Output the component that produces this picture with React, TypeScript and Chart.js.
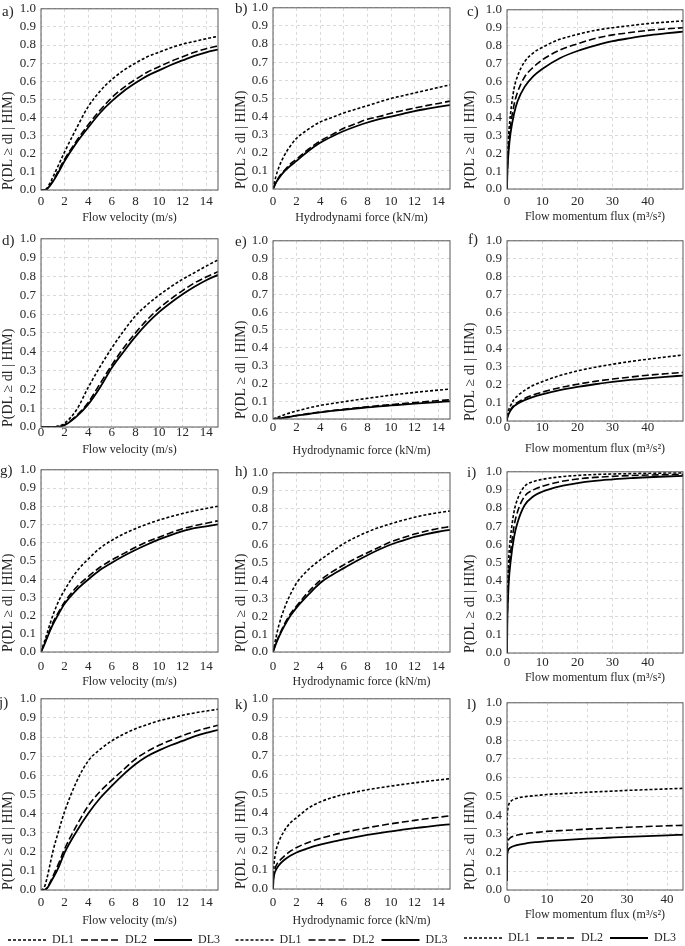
import React, { useEffect, useRef } from 'react';
import { Chart, registerables } from 'chart.js';
Chart.register(...registerables);

// ---------------- data ----------------
const SERIES = ['DL1', 'DL2', 'DL3'];
const Y_TICKS = [0, 0.1, 0.2, 0.3, 0.4, 0.5, 0.6, 0.7, 0.8, 0.9, 1.0];
const X_TICKS_15 = [0, 2, 4, 6, 8, 10, 12, 14];
const X_TICKS_50 = [0, 10, 20, 30, 40];

const X_A = [0, 0.25, 0.5, 1, 1.5, 2, 3, 4, 5, 6, 7, 8, 9, 10, 11, 12, 13, 14, 15];
const X_D = [0, 0.5, 1, 1.5, 2, 3, 4, 5, 6, 7, 8, 9, 10, 11, 12, 13, 14, 15];
const X_E = [0, 0.5, 1, 2, 3, 4, 5, 6, 7, 8, 9, 10, 11, 12, 13, 14, 15];
const X_K = [0, 0.05, 0.1, 0.25, 0.5, 1, 1.5, 2, 3, 4, 5, 6, 7, 8, 9, 10, 11, 12, 13, 14, 15];
const X_F = [0, 0.1, 0.25, 0.5, 1, 2, 3, 5, 7.5, 10, 15, 20, 25, 30, 35, 40, 45, 50];
const X_L = [0, 0.05, 0.1, 0.25, 0.5, 1, 2, 3, 5, 7.5, 10, 15, 20, 25, 30, 35, 40, 44];

const A_DL1 = [0, 0, 0.01, 0.07, 0.14, 0.21, 0.34, 0.46, 0.545, 0.61, 0.66, 0.7, 0.735, 0.76, 0.785, 0.805, 0.82, 0.835, 0.848];
const A_DL2 = [0, 0, 0.005, 0.05, 0.11, 0.17, 0.27, 0.36, 0.44, 0.51, 0.565, 0.61, 0.65, 0.68, 0.71, 0.735, 0.76, 0.78, 0.795];
const A_DL3 = [0, 0, 0.005, 0.045, 0.1, 0.16, 0.26, 0.345, 0.425, 0.49, 0.545, 0.59, 0.63, 0.66, 0.69, 0.715, 0.74, 0.76, 0.775];

const B_DL1 = [0, 0.07, 0.12, 0.19, 0.24, 0.28, 0.33, 0.37, 0.395, 0.42, 0.44, 0.46, 0.48, 0.5, 0.515, 0.53, 0.545, 0.56, 0.575];
const B_DL2 = [0, 0.035, 0.065, 0.105, 0.14, 0.165, 0.22, 0.265, 0.3, 0.335, 0.36, 0.385, 0.4, 0.418, 0.433, 0.447, 0.46, 0.472, 0.485];
const B_DL3 = [0, 0.035, 0.06, 0.1, 0.13, 0.155, 0.21, 0.255, 0.29, 0.32, 0.345, 0.367, 0.385, 0.4, 0.415, 0.43, 0.442, 0.453, 0.463];

const C_DL1 = [0, 0.13, 0.22, 0.31, 0.42, 0.56, 0.63, 0.71, 0.76, 0.79, 0.835, 0.863, 0.885, 0.9, 0.912, 0.923, 0.931, 0.938];
const C_DL2 = [0, 0.1, 0.17, 0.25, 0.35, 0.47, 0.54, 0.625, 0.68, 0.72, 0.775, 0.81, 0.84, 0.86, 0.873, 0.885, 0.893, 0.9];
const C_DL3 = [0, 0.09, 0.15, 0.22, 0.31, 0.42, 0.49, 0.57, 0.63, 0.67, 0.73, 0.77, 0.8, 0.825, 0.842, 0.857, 0.868, 0.878];

const D_DL1 = [0, 0, 0, 0.005, 0.02, 0.09, 0.21, 0.32, 0.42, 0.51, 0.59, 0.65, 0.7, 0.745, 0.785, 0.82, 0.855, 0.888];
const D_DL2 = [0, 0, 0, 0.003, 0.012, 0.06, 0.13, 0.23, 0.33, 0.42, 0.5, 0.57, 0.63, 0.68, 0.725, 0.765, 0.797, 0.825];
const D_DL3 = [0, 0, 0, 0.002, 0.01, 0.055, 0.12, 0.21, 0.315, 0.4, 0.48, 0.55, 0.61, 0.66, 0.705, 0.745, 0.78, 0.808];

const E_DL1 = [0, 0.012, 0.025, 0.045, 0.062, 0.076, 0.087, 0.097, 0.107, 0.116, 0.125, 0.134, 0.142, 0.149, 0.156, 0.162, 0.168];
const E_DL2 = [0, 0.004, 0.009, 0.02, 0.03, 0.039, 0.047, 0.055, 0.062, 0.069, 0.075, 0.081, 0.087, 0.092, 0.098, 0.103, 0.108];
const E_DL3 = [0, 0.004, 0.008, 0.019, 0.028, 0.037, 0.045, 0.052, 0.059, 0.065, 0.071, 0.076, 0.081, 0.086, 0.091, 0.095, 0.099];

const F_DL1 = [0, 0.03, 0.045, 0.062, 0.085, 0.12, 0.14, 0.17, 0.198, 0.218, 0.252, 0.278, 0.298, 0.315, 0.33, 0.343, 0.355, 0.366];
const F_DL2 = [0, 0.02, 0.03, 0.043, 0.062, 0.088, 0.103, 0.125, 0.145, 0.16, 0.185, 0.204, 0.22, 0.233, 0.244, 0.254, 0.262, 0.27];
const F_DL3 = [0, 0.018, 0.028, 0.04, 0.058, 0.082, 0.096, 0.116, 0.134, 0.148, 0.171, 0.189, 0.204, 0.217, 0.228, 0.237, 0.245, 0.252];

const G_DL1 = [0, 0.05, 0.1, 0.2, 0.28, 0.34, 0.44, 0.51, 0.57, 0.613, 0.648, 0.677, 0.702, 0.724, 0.743, 0.76, 0.775, 0.788, 0.8];
const G_DL2 = [0, 0.04, 0.08, 0.16, 0.22, 0.275, 0.355, 0.414, 0.465, 0.505, 0.54, 0.575, 0.605, 0.63, 0.655, 0.677, 0.693, 0.707, 0.72];
const G_DL3 = [0, 0.035, 0.075, 0.15, 0.21, 0.265, 0.34, 0.398, 0.45, 0.49, 0.527, 0.56, 0.59, 0.618, 0.642, 0.663, 0.68, 0.69, 0.7];

const H_DL1 = [0, 0.08, 0.15, 0.25, 0.325, 0.385, 0.46, 0.514, 0.56, 0.605, 0.64, 0.67, 0.695, 0.716, 0.735, 0.752, 0.766, 0.777, 0.787];
const H_DL2 = [0, 0.05, 0.09, 0.16, 0.215, 0.257, 0.335, 0.4, 0.447, 0.486, 0.522, 0.554, 0.585, 0.615, 0.638, 0.658, 0.675, 0.689, 0.7];
const H_DL3 = [0, 0.045, 0.085, 0.15, 0.205, 0.248, 0.32, 0.385, 0.43, 0.468, 0.505, 0.54, 0.572, 0.6, 0.622, 0.642, 0.658, 0.671, 0.682];

const I_DL1 = [0, 0.3, 0.42, 0.53, 0.64, 0.78, 0.85, 0.92, 0.946, 0.958, 0.972, 0.98, 0.985, 0.988, 0.99, 0.992, 0.993, 0.994];
const I_DL2 = [0, 0.22, 0.33, 0.44, 0.55, 0.7, 0.78, 0.865, 0.9, 0.92, 0.945, 0.96, 0.969, 0.975, 0.979, 0.982, 0.984, 0.986];
const I_DL3 = [0, 0.18, 0.28, 0.39, 0.5, 0.64, 0.72, 0.815, 0.865, 0.89, 0.92, 0.938, 0.95, 0.958, 0.965, 0.97, 0.974, 0.978];

const J_DL1 = [0, 0.01, 0.06, 0.2, 0.31, 0.41, 0.565, 0.675, 0.735, 0.78, 0.815, 0.843, 0.865, 0.885, 0.9, 0.914, 0.926, 0.936, 0.945];
const J_DL2 = [0, 0, 0.01, 0.07, 0.14, 0.215, 0.335, 0.44, 0.515, 0.575, 0.63, 0.685, 0.725, 0.757, 0.783, 0.807, 0.828, 0.846, 0.862];
const J_DL3 = [0, 0, 0.008, 0.06, 0.12, 0.195, 0.305, 0.4, 0.48, 0.545, 0.605, 0.658, 0.7, 0.73, 0.757, 0.78, 0.803, 0.822, 0.838];

const K_DL1 = [0, 0.1, 0.14, 0.2, 0.25, 0.31, 0.35, 0.375, 0.425, 0.458, 0.48, 0.497, 0.51, 0.522, 0.532, 0.541, 0.55, 0.558, 0.566, 0.573, 0.58];
const K_DL2 = [0, 0.07, 0.09, 0.12, 0.145, 0.175, 0.2, 0.218, 0.245, 0.266, 0.283, 0.297, 0.31, 0.322, 0.333, 0.343, 0.352, 0.361, 0.369, 0.377, 0.385];
const K_DL3 = [0, 0.055, 0.075, 0.1, 0.125, 0.155, 0.176, 0.192, 0.215, 0.233, 0.248, 0.261, 0.273, 0.284, 0.294, 0.303, 0.312, 0.32, 0.327, 0.334, 0.34];

const L_DL1 = [0.05, 0.38, 0.41, 0.44, 0.46, 0.475, 0.487, 0.493, 0.5, 0.505, 0.51, 0.516, 0.522, 0.527, 0.532, 0.536, 0.54, 0.543];
const L_DL2 = [0.05, 0.22, 0.24, 0.26, 0.272, 0.282, 0.29, 0.295, 0.302, 0.308, 0.313, 0.319, 0.325, 0.33, 0.335, 0.339, 0.343, 0.345];
const L_DL3 = [0.05, 0.18, 0.195, 0.21, 0.22, 0.228, 0.237, 0.243, 0.25, 0.256, 0.261, 0.268, 0.274, 0.279, 0.284, 0.288, 0.292, 0.295];

const T_VEL = 'Flow velocity (m/s)';
const T_FORCE = 'Hydrodynamic force (kN/m)';
const T_FORCE_B = 'Hydrodynami force (kN/m)';
const T_FLUX = 'Flow momentum flux (m³/s²)';
const Y_TITLE = 'P(DL ≥ dl | HIM)';

const PANELS = [
  { id: 'a', x: X_A, y: [A_DL1, A_DL2, A_DL3], xMax: 15, xTicks: X_TICKS_15, title: T_VEL },
  { id: 'b', x: X_A, y: [B_DL1, B_DL2, B_DL3], xMax: 15, xTicks: X_TICKS_15, title: T_FORCE_B },
  { id: 'c', x: X_F, y: [C_DL1, C_DL2, C_DL3], xMax: 50, xTicks: X_TICKS_50, title: T_FLUX },
  { id: 'd', x: X_D, y: [D_DL1, D_DL2, D_DL3], xMax: 15, xTicks: X_TICKS_15, title: T_VEL },
  { id: 'e', x: X_E, y: [E_DL1, E_DL2, E_DL3], xMax: 15, xTicks: X_TICKS_15, title: T_FORCE },
  { id: 'f', x: X_F, y: [F_DL1, F_DL2, F_DL3], xMax: 50, xTicks: X_TICKS_50, title: T_FLUX },
  { id: 'g', x: X_A, y: [G_DL1, G_DL2, G_DL3], xMax: 15, xTicks: X_TICKS_15, title: T_VEL },
  { id: 'h', x: X_A, y: [H_DL1, H_DL2, H_DL3], xMax: 15, xTicks: X_TICKS_15, title: T_FORCE },
  { id: 'i', x: X_F, y: [I_DL1, I_DL2, I_DL3], xMax: 50, xTicks: X_TICKS_50, title: T_FLUX },
  { id: 'j', x: X_A, y: [J_DL1, J_DL2, J_DL3], xMax: 15, xTicks: X_TICKS_15, title: T_VEL },
  { id: 'k', x: X_K, y: [K_DL1, K_DL2, K_DL3], xMax: 15, xTicks: X_TICKS_15, title: T_FORCE },
  { id: 'l', x: X_L, y: [L_DL1, L_DL2, L_DL3], xMax: 44, xTicks: X_TICKS_50, title: T_FLUX },
];

// ---------------- layout & style ----------------
const COLS = [[0, 228], [228, 455], [455, 685]];
const YTITLE_X = [8, 241, 470];
// plot: [left, top, right, bottom], tickY / titleY / legendY: centre lines, label: [x, y]
const LAYOUT: Record<string, any> = {
  a: { col: 0, plot: [41, 6, 218, 190], tickY: 202, titleY: 218, label: [2, 12] },
  b: { col: 1, plot: [273, 5, 450, 189], tickY: 202, titleY: 218, label: [235, 9] },
  c: { col: 2, plot: [507, 7, 683, 189], tickY: 202, titleY: 217, label: [467, 12] },
  d: { col: 0, plot: [41, 236, 218, 427], tickY: 433, titleY: 450, label: [2, 241] },
  e: { col: 1, plot: [273, 238, 450, 419], tickY: 428, titleY: 451, label: [235, 242] },
  f: { col: 2, plot: [507, 238, 683, 421], tickY: 428, titleY: 449, label: [468, 240] },
  g: { col: 0, plot: [41, 467, 218, 652], tickY: 667, titleY: 682, label: [0, 471] },
  h: { col: 1, plot: [273, 470, 450, 652], tickY: 667, titleY: 682, label: [235, 472] },
  i: { col: 2, plot: [507, 469, 683, 653], tickY: 663, titleY: 678, label: [467, 473] },
  j: { col: 0, plot: [41, 696, 218, 890], tickY: 903, titleY: 921, legendY: 940, label: [-1, 703] },
  k: { col: 1, plot: [273, 696, 450, 889], tickY: 903, titleY: 921, legendY: 940, label: [235, 705] },
  l: { col: 2, plot: [507, 700, 683, 890], tickY: 900, titleY: 915, legendY: 938, label: [467, 705] },
};

const FONT = "'Liberation Serif', 'Times New Roman', Times, serif";
const TEXT = '#262626';
const GRID = '#d9d9d9';
const FRAME = '#595959';
const LINE_STYLES = [
  { width: 1.6, dash: [3, 2] },
  { width: 1.6, dash: [7, 3] },
  { width: 1.8, dash: [] as number[] },
];
const TICK_SIZE = 13;
const XTITLE_SIZE = 12;
const YTITLE_SIZE = 14;
const LEGEND_SIZE = 12;
const LEGEND_PAD = 7;

function Panel({ p }: { p: any }) {
  const ref = useRef<HTMLCanvasElement>(null);
  const L = LAYOUT[p.id];
  const [cx0, cx1] = COLS[L.col];
  const [pl, pt, pr, pb] = L.plot;
  const top = pt - 10;
  const bottom = L.legendY ? L.legendY + 16 : L.titleY + 10;
  const W = cx1 - cx0;
  const H = bottom - top;
  const legendH = LEGEND_SIZE + LEGEND_PAD + 10;
  const xScaleBottom = L.legendY ? bottom - legendH : bottom;
  const tickLH = TICK_SIZE * 1.2;
  const xTitleLH = XTITLE_SIZE * 1.2;
  const yTitleLH = YTITLE_SIZE * 1.2;

  useEffect(() => {
    const canvas = ref.current;
    if (!canvas) return;
    const framePlugin = {
      id: 'frame',
      afterDatasetsDraw(chart: any) {
        const { ctx, chartArea: a } = chart;
        ctx.save();
        ctx.strokeStyle = FRAME;
        ctx.lineWidth = 1;
        ctx.strokeRect(a.left, a.top, a.right - a.left, a.bottom - a.top);
        ctx.restore();
      },
    };
    const labelPlugin = {
      id: 'panelLabel',
      afterDraw(chart: any) {
        const { ctx } = chart;
        ctx.save();
        ctx.fillStyle = TEXT;
        ctx.font = `15px ${FONT}`;
        ctx.textBaseline = 'middle';
        ctx.textAlign = 'left';
        ctx.fillText(p.id + ')', L.label[0] - cx0, L.label[1] - top);
        ctx.restore();
      },
    };
    const chart = new Chart(canvas, {
      type: 'line',
      data: {
        datasets: SERIES.map((name, i) => ({
          label: name,
          data: p.x.map((x: number, j: number) => ({ x, y: p.y[i][j] })),
          borderColor: '#000',
          backgroundColor: '#000',
          borderWidth: LINE_STYLES[i].width,
          borderDash: LINE_STYLES[i].dash,
          pointRadius: 0,
          cubicInterpolationMode: 'monotone',
          fill: false,
          yAxisID: 'y',
        })),
      },
      options: {
        responsive: false,
        animation: false,
        events: [],
        layout: { padding: { top: 10, left: 0, right: 0, bottom: 0 } },
        plugins: {
          tooltip: { enabled: false },
          legend: {
            display: !!L.legendY,
            position: 'bottom',
            align: 'center',
            labels: {
              usePointStyle: true,
              pointStyle: 'line',
              pointStyleWidth: 38,
              boxHeight: LEGEND_SIZE,
              padding: LEGEND_PAD,
              color: TEXT,
              font: { family: FONT, size: LEGEND_SIZE },
              generateLabels: (ch: any) =>
                Chart.defaults.plugins.legend.labels.generateLabels(ch).map((item: any, i: number) => ({
                  ...item,
                  pointStyle: 'line',
                  strokeStyle: '#000',
                  fillStyle: '#000',
                  lineWidth: LINE_STYLES[i].width,
                  lineDash: LINE_STYLES[i].dash,
                })),
            },
          },
        },
        scales: {
          x: {
            type: 'linear',
            min: 0,
            max: p.xMax,
            afterBuildTicks: (s: any) => {
              s.ticks = p.xTicks.map((v: number) => ({ value: v }));
            },
            afterFit: (s: any) => {
              s.height = xScaleBottom - pb;
            },
            ticks: {
              autoSkip: false,
              maxRotation: 0,
              padding: L.tickY - pb - tickLH / 2,
              color: TEXT,
              font: { family: FONT, size: TICK_SIZE },
              callback: (v: any) => String(v),
            },
            grid: { color: GRID, lineWidth: 1, drawTicks: false },
            border: { display: false, dash: [3, 3] },
            title: {
              display: true,
              text: p.title,
              color: TEXT,
              font: { family: FONT, size: XTITLE_SIZE },
              padding: { top: 0, bottom: xScaleBottom - L.titleY - xTitleLH / 2 },
            },
          },
          y: {
            type: 'linear',
            position: 'left',
            min: 0,
            max: 1,
            afterBuildTicks: (s: any) => {
              s.ticks = Y_TICKS.map((v) => ({ value: v }));
            },
            afterFit: (s: any) => {
              s.width = pl - cx0;
            },
            ticks: {
              autoSkip: false,
              padding: 5,
              color: TEXT,
              font: { family: FONT, size: TICK_SIZE },
              callback: (v: any) => Number(v).toFixed(1),
            },
            grid: { color: GRID, lineWidth: 1, drawTicks: false },
            border: { display: false, dash: [3, 3] },
            title: {
              display: true,
              text: Y_TITLE,
              align: 'start',
              color: TEXT,
              font: { family: FONT, size: YTITLE_SIZE },
              padding: { top: YTITLE_X[L.col] - cx0 - yTitleLH / 2, bottom: 0 },
            },
          },
          ySpacer: {
            type: 'linear',
            position: 'right',
            display: true,
            ticks: { display: false },
            grid: { display: false, drawTicks: false },
            border: { display: false },
            title: { display: false },
            afterFit: (s: any) => {
              s.width = cx1 - pr;
            },
          },
        },
      } as any,
      plugins: [framePlugin, labelPlugin],
    });
    return () => chart.destroy();
  }, []);

  return (
    <canvas
      ref={ref}
      width={W}
      height={H}
      style={{ position: 'absolute', left: cx0, top, width: W, height: H, display: 'block' }}
    />
  );
}

export default function App() {
  return (
    <div
      style={{
        position: 'absolute',
        left: 0,
        top: 0,
        width: 685,
        height: 946,
        overflow: 'hidden',
        background: '#fff',
      }}
    >
      {PANELS.map((p) => (
        <Panel key={p.id} p={p} />
      ))}
    </div>
  );
}
